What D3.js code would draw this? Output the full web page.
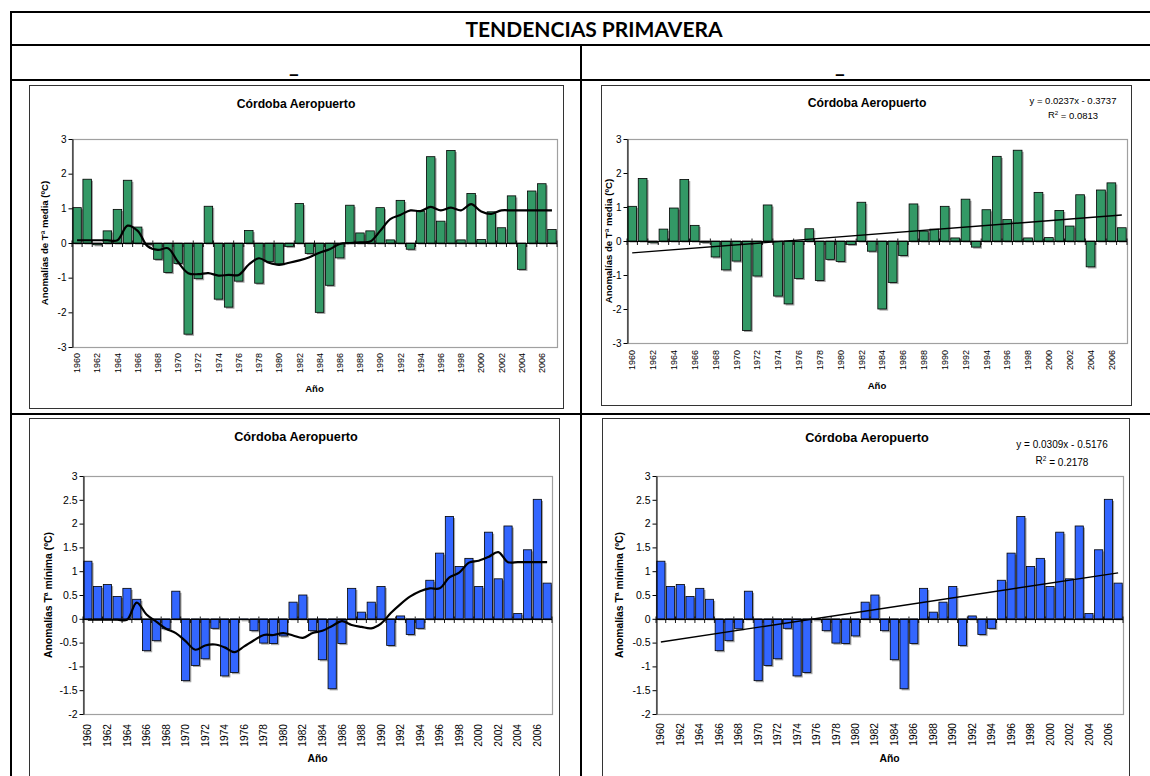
<!DOCTYPE html>
<html>
<head>
<meta charset="utf-8">
<script src="https://cdn.jsdelivr.net/npm/d3@7/dist/d3.min.js"></script>
<style>
  body { margin: 0; background: #fff; }
  svg { display: block; font-family: "Liberation Sans", Arial, sans-serif; }
</style>
</head>
<body>
<svg id="chart" width="1150" height="776"></svg>
<script>
// Categories (years)
const years = [1960, 1961, 1962, 1963, 1964, 1965, 1966, 1967, 1968, 1969,
               1970, 1971, 1972, 1973, 1974, 1975, 1976, 1977, 1978, 1979,
               1980, 1981, 1982, 1983, 1984, 1985, 1986, 1987, 1988, 1989,
               1990, 1991, 1992, 1993, 1994, 1995, 1996, 1997, 1998, 1999,
               2000, 2001, 2002, 2003, 2004, 2005, 2006, 2007];

// Anomalías de Tª media (ºC)
const mediaAnom = [1.02, 1.84, -0.05, 0.35, 0.97, 1.81, 0.46, -0.04, -0.47, -0.85,
                   -0.59, -2.63, -1.03, 1.06, -1.62, -1.85, -1.10, 0.36, -1.16, -0.54,
                   -0.60, -0.10, 1.14, -0.30, -2.00, -1.22, -0.43, 1.09, 0.29, 0.35,
                   1.02, 0.09, 1.23, -0.18, 0.92, 2.49, 0.63, 2.67, 0.09, 1.43,
                   0.10, 0.90, 0.44, 1.36, -0.76, 1.50, 1.71, 0.39];

// smoothed curve drawn over the media bars
const mediaSmooth = [0.08, 0.08, 0.08, 0.08, 0.08, 0.50, 0.35, -0.10, -0.20, -0.15,
                     -0.55, -0.87, -0.90, -0.87, -0.94, -0.92, -0.92, -0.62, -0.44, -0.57,
                     -0.63, -0.57, -0.50, -0.41, -0.28, -0.18, -0.03, 0.00, 0.02, 0.04,
                     0.35, 0.69, 0.81, 0.94, 0.92, 1.04, 0.94, 1.02, 0.94, 1.12,
                     0.91, 0.84, 0.94, 0.94, 0.94, 0.94, 0.94, 0.94];

// Anomalías Tª mínima (ºC)
const minimaAnom = [1.21, 0.68, 0.72, 0.47, 0.64, 0.41, -0.67, -0.46, -0.21, 0.58,
                    -1.30, -0.98, -0.84, -0.20, -1.20, -1.13, -0.02, -0.25, -0.51, -0.52,
                    -0.36, 0.35, 0.50, -0.25, -0.86, -1.47, -0.52, 0.64, 0.14, 0.35,
                    0.68, -0.56, 0.06, -0.33, -0.20, 0.81, 1.38, 2.15, 1.10, 1.27,
                    0.68, 1.82, 0.84, 1.95, 0.11, 1.45, 2.51, 0.75];

const minimaSmooth = [-0.02, -0.02, -0.02, -0.02, -0.02, 0.34, 0.09, -0.06, -0.21, -0.30,
                      -0.47, -0.65, -0.56, -0.54, -0.60, -0.70, -0.58, -0.45, -0.34, -0.34,
                      -0.30, -0.35, -0.40, -0.30, -0.25, -0.15, -0.05, -0.13, -0.17, -0.20,
                      -0.10, 0.12, 0.31, 0.47, 0.58, 0.64, 0.64, 0.87, 0.97, 1.18,
                      1.22, 1.30, 1.40, 1.19, 1.19, 1.19, 1.19, 1.19];

// linear trends [slope, intercept] (x = 1 for 1960) and their labels
const mediaTrend = [0.0237, -0.3737];
const minimaTrend = [0.0309, -0.5176];
const mediaTrendLabel = ["y = 0.0237x - 0.3737", "0.0813"];
const minimaTrendLabel = ["y = 0.0309x - 0.5176", "0.2178"];

// tick labels
const xTickYears = [1960, 1962, 1964, 1966, 1968, 1970, 1972, 1974, 1976, 1978, 1980, 1982,
                    1984, 1986, 1988, 1990, 1992, 1994, 1996, 1998, 2000, 2002, 2004, 2006];
const mediaTicks = [-3, -2, -1, 0, 1, 2, 3];
const minimaTicks = [-2, -1.5, -1, -0.5, 0, 0.5, 1, 1.5, 2, 2.5, 3];

const svg = d3.select("#chart");

// ---- table frame ----
const table = svg.append("g").attr("stroke", "#000").attr("stroke-width", 2);
table.append("line").attr("x1", 10).attr("x2", 1150).attr("y1", 12).attr("y2", 12);
table.append("line").attr("x1", 10).attr("x2", 1150).attr("y1", 45).attr("y2", 45);
table.append("line").attr("x1", 10).attr("x2", 1150).attr("y1", 80).attr("y2", 80);
table.append("line").attr("x1", 10).attr("x2", 1150).attr("y1", 414).attr("y2", 414);
table.append("line").attr("x1", 11).attr("x2", 11).attr("y1", 11).attr("y2", 776);
table.append("line").attr("x1", 581).attr("x2", 581).attr("y1", 45).attr("y2", 776);

svg.append("text")
    .attr("x", 594).attr("y", 37)
    .attr("text-anchor", "middle")
    .style("font-family", "Lato, 'Open Sans', sans-serif")
    .style("font-weight", "bold").style("font-size", "21px")
    .text("TENDENCIAS PRIMAVERA");

[294, 840].forEach(cx => {
    svg.append("text")
        .attr("x", cx).attr("y", 73)
        .attr("text-anchor", "middle")
        .style("font-family", "Lato, 'Open Sans', sans-serif")
        .style("font-weight", "bold").style("font-size", "21px")
        .text("_");
});

// ---- one chart panel ----
function drawPanel(cfg) {
    const g = svg.append("g");
    const [bx0, by0, bx1, by1] = cfg.box;
    const [px0, py0, px1, py1] = cfg.plot;

    // chart box
    g.append("rect")
        .attr("x", bx0 + 0.5).attr("y", by0 + 0.5)
        .attr("width", bx1 - bx0).attr("height", by1 - by0)
        .attr("fill", "#fff").attr("stroke", "#333").attr("stroke-width", 1);

    const x = d3.scaleBand()
        .domain(years)
        .range([px0, px1])
        .paddingInner(0.16)
        .paddingOuter(0.08);

    const y = d3.scaleLinear()
        .domain(cfg.domain)
        .range([py1, py0]);

    // plot area border
    g.append("rect")
        .attr("x", px0 + 0.5).attr("y", py0 + 0.5)
        .attr("width", px1 - px0).attr("height", py1 - py0)
        .attr("fill", "none").attr("stroke", "#a0a0a0").attr("stroke-width", 1.2);

    const rows = years.map((yr, i) => ({ year: yr, value: cfg.values[i] }));

    // bar shadows
    g.selectAll(".shadow")
        .data(rows)
        .enter()
        .append("rect")
        .attr("class", "shadow")
        .attr("x", d => x(d.year) + 1.6)
        .attr("y", d => Math.min(y(d.value), y(0)) + 1.6)
        .attr("width", x.bandwidth())
        .attr("height", d => Math.abs(y(d.value) - y(0)))
        .attr("fill", "#a6a6a6");

    // bars
    g.selectAll(".bar")
        .data(rows)
        .enter()
        .append("rect")
        .attr("class", "bar")
        .attr("x", d => x(d.year))
        .attr("y", d => Math.min(y(d.value), y(0)))
        .attr("width", x.bandwidth())
        .attr("height", d => Math.abs(y(d.value) - y(0)))
        .attr("fill", cfg.color)
        .attr("stroke", "#000").attr("stroke-width", 0.8);

    // category axis on the zero line
    const y0 = Math.round(y(0)) + 0.5;
    g.append("line")
        .attr("x1", px0).attr("x2", px1).attr("y1", y0).attr("y2", y0)
        .attr("stroke", "#000").attr("stroke-width", 1);
    const step = x.step();
    g.selectAll(".xtick")
        .data(d3.range(years.length + 1))
        .enter()
        .append("line")
        .attr("class", "xtick")
        .attr("x1", i => px0 + i * step).attr("x2", i => px0 + i * step)
        .attr("y1", i => i % 2 === 0 ? y0 - 3 : y0)
        .attr("y2", y0 + 3.5)
        .attr("stroke", "#000").attr("stroke-width", 0.9);

    // value axis
    const yAxis = g.append("g")
        .attr("transform", `translate(${px0 + 0.5},0)`)
        .call(d3.axisLeft(y).tickValues(cfg.ticks).tickSize(4).tickSizeOuter(0)
            .tickFormat(d => String(d)));
    yAxis.select(".domain").attr("stroke", "#000");
    yAxis.selectAll(".tick line").attr("stroke", "#000");
    yAxis.selectAll(".tick text")
        .attr("x", -6)
        .style("font-family", "'Liberation Sans', Arial, sans-serif")
        .style("font-size", cfg.fs.tick + "px").attr("fill", "#000");

    // rotated year labels
    g.selectAll(".xlabel")
        .data(xTickYears)
        .enter()
        .append("text")
        .attr("class", "xlabel")
        .attr("transform", d => `translate(${x(d) + x.bandwidth() / 2},${cfg.labelTop}) rotate(-90)`)
        .attr("text-anchor", "end")
        .attr("dy", "0.35em")
        .style("font-size", cfg.fs.xtick + "px")
        .text(d => d);

    // series over the bars
    if (cfg.smooth) {
        const line = d3.line()
            .x((d, i) => x(years[i]) + x.bandwidth() / 2)
            .y(d => y(d))
            .curve(d3.curveCatmullRom.alpha(0.5));
        g.append("path")
            .datum(cfg.smooth)
            .attr("d", line)
            .attr("fill", "none")
            .attr("stroke", "#000").attr("stroke-width", 2.2)
            .attr("stroke-linejoin", "round");
    }
    if (cfg.trend) {
        const [slope, intercept] = cfg.trend;
        const first = years[0], last = years[years.length - 1];
        const ends = [first, last].map(yr => ({ year: yr, v: slope * (yr - first + 1) + intercept }));
        g.append("line")
            .attr("x1", x(ends[0].year) + x.bandwidth() / 2).attr("y1", y(ends[0].v))
            .attr("x2", x(ends[1].year) + x.bandwidth() / 2).attr("y2", y(ends[1].v))
            .attr("stroke", "#000").attr("stroke-width", 1.4);

        const eq = g.append("text")
            .attr("text-anchor", "middle")
            .style("font-size", cfg.fs.eq + "px");
        eq.append("tspan").attr("x", cfg.eq[0]).attr("y", cfg.eq[1]).text(cfg.trendLabel[0]);
        const r2 = g.append("text")
            .attr("x", cfg.eq[0]).attr("y", cfg.eq[1] + cfg.eq[2])
            .attr("text-anchor", "middle")
            .style("font-size", cfg.fs.eq + "px");
        r2.append("tspan").text("R");
        r2.append("tspan").attr("dy", "-0.45em").style("font-size", (cfg.fs.eq * 0.65) + "px").text("2");
        r2.append("tspan").attr("dy", "0.45em").text(" = " + cfg.trendLabel[1]);
    }

    // titles
    g.append("text")
        .attr("x", cfg.titleX).attr("y", cfg.titleY)
        .attr("text-anchor", "middle")
        .style("font-weight", "bold").style("font-size", cfg.fs.title + "px")
        .text("Córdoba Aeropuerto");

    g.append("text")
        .attr("x", (px0 + px1) / 2).attr("y", cfg.xlabY)
        .attr("text-anchor", "middle")
        .style("font-weight", "bold").style("font-size", cfg.fs.axis + "px")
        .text("Año");

    g.append("text")
        .attr("transform", `translate(${cfg.ylabX},${(py0 + py1) / 2}) rotate(-90)`)
        .attr("text-anchor", "middle")
        .style("font-weight", "bold").style("font-size", cfg.fs.axis + "px")
        .text(cfg.ylab);
}

const topFs = { title: 12.2, tick: 10, xtick: 9, axis: 9.6, eq: 9.5 };
const botFs = { title: 12.7, tick: 10.5, xtick: 10.2, axis: 10.4, eq: 10 };

drawPanel({
    box: [29, 85, 563, 408], plot: [72, 139, 557, 347],
    domain: [-3, 3], ticks: mediaTicks, values: mediaAnom, color: "#339966",
    smooth: mediaSmooth,
    titleX: 296, titleY: 108, xlabY: 392, ylabX: 48, labelTop: 353,
    ylab: "Anomalías de Tª media (ºC)", fs: topFs
});

drawPanel({
    box: [601, 85, 1131, 405], plot: [627, 139, 1127, 343],
    domain: [-3, 3], ticks: mediaTicks, values: mediaAnom, color: "#339966",
    trend: mediaTrend, trendLabel: mediaTrendLabel, eq: [1073, 104, 14],
    titleX: 867, titleY: 107, xlabY: 389, ylabX: 612, labelTop: 350,
    ylab: "Anomalías de Tª media (ºC)", fs: topFs
});

drawPanel({
    box: [29, 418, 559, 800], plot: [83, 476, 552, 714],
    domain: [-2, 3], ticks: minimaTicks, values: minimaAnom, color: "#3366ff",
    smooth: minimaSmooth,
    titleX: 296, titleY: 441, xlabY: 762, ylabX: 52, labelTop: 724,
    ylab: "Anomalías Tª mínima (ºC)", fs: botFs
});

drawPanel({
    box: [602, 418, 1129, 800], plot: [656, 476, 1123, 714],
    domain: [-2, 3], ticks: minimaTicks, values: minimaAnom, color: "#3366ff",
    trend: minimaTrend, trendLabel: minimaTrendLabel, eq: [1062, 448, 16],
    titleX: 867, titleY: 442, xlabY: 762, ylabX: 623, labelTop: 723,
    ylab: "Anomalías Tª mínima (ºC)", fs: botFs
});
</script>
</body>
</html>
